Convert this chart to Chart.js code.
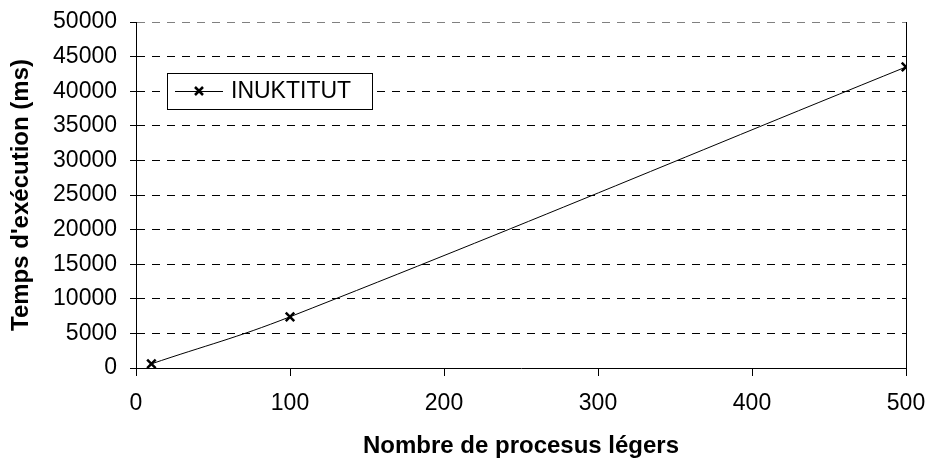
<!doctype html>
<html lang="fr">
  <head>
    <meta charset="UTF-8" />
    <title>Temps d'exécution</title>
    <script src="https://cdn.jsdelivr.net/npm/chart.js"></script>
    <style>
      body { margin: 0; background: #fff; }
      #wrap { width: 927px; height: 462px; position: relative; }
    </style>
  </head>
  <body>
    <div id="wrap"><canvas id="timeChart"></canvas></div>
    <script>
      // data
      var threads = [10, 100, 500];
      var times = [600, 7400, 43500];
      var seriesName = "INUKTITUT";
      var xTitle = "Nombre de procesus légers";
      var yTitle = "Temps d'exécution (ms)";

      var FONT = "'Liberation Sans', Arial, sans-serif";

      // boxed legend sitting inside the plot area, upper left
      var boxLegend = {
        id: "boxLegend",
        afterDraw: function (chart) {
          var ctx = chart.ctx;
          var x0 = 167, y0 = 73, w = 205, h = 36, cy = y0 + h / 2;
          ctx.save();
          ctx.fillStyle = "#fff";
          ctx.fillRect(x0, y0, w, h);
          ctx.strokeStyle = "#000";
          ctx.lineWidth = 1;
          ctx.strokeRect(x0 + 0.5, y0 + 0.5, w, h);
          ctx.beginPath();
          ctx.moveTo(175, cy + 0.5);
          ctx.lineTo(223, cy + 0.5);
          ctx.stroke();
          ctx.lineWidth = 2.5;
          ctx.beginPath();
          ctx.moveTo(195, cy - 4);
          ctx.lineTo(203, cy + 4);
          ctx.moveTo(203, cy - 4);
          ctx.lineTo(195, cy + 4);
          ctx.stroke();
          ctx.fillStyle = "#000";
          ctx.font = "23px " + FONT;
          ctx.textBaseline = "middle";
          ctx.textAlign = "left";
          ctx.fillText(chart.data.datasets[0].label, 231, cy + 1);
          ctx.restore();
        },
      };

      var ctx1 = document.getElementById("timeChart").getContext("2d");
      var timeChart = new Chart(ctx1, {
        type: "line",
        data: {
          datasets: [
            {
              label: seriesName,
              data: threads.map(function (t, i) {
                return { x: t, y: times[i] };
              }),
              borderColor: "#000",
              borderWidth: 1,
              tension: 0.4,
              pointStyle: "crossRot",
              pointRadius: 6,
              pointBorderWidth: 2.5,
              pointBorderColor: "#000",
              pointBackgroundColor: "#000",
            },
          ],
        },
        options: {
          responsive: true,
          maintainAspectRatio: false,
          animation: false,
          layout: { padding: { top: 22, right: 21, left: 0, bottom: 0 } },
          plugins: {
            legend: { display: false },
            tooltip: { enabled: false },
          },
          scales: {
            x: {
              type: "linear",
              min: 0,
              max: 500,
              ticks: {
                stepSize: 100,
                color: "#000",
                padding: 14,
                maxRotation: 0,
                font: { family: FONT, size: 23 },
              },
              grid: {
                color: function (c) {
                  return c.tick && c.tick.value === 500 ? "#000" : "rgba(0,0,0,0)";
                },
                tickColor: "#000",
                tickLength: 8,
              },
              border: { color: "#000", width: 1 },
              title: {
                display: true,
                text: xTitle,
                color: "#000",
                padding: { top: 1, bottom: 1 },
                font: { family: FONT, size: 24, weight: "bold" },
              },
              afterFit: function (s) {
                s.height = 94;
                s.paddingLeft = 0;
                s.paddingRight = 0;
              },
            },
            y: {
              min: 0,
              max: 50000,
              ticks: {
                stepSize: 5000,
                color: "#000",
                padding: 13,
                font: { family: FONT, size: 23 },
                callback: function (v) {
                  return String(v);
                },
              },
              grid: {
                color: function (c) {
                  if (!c.tick) return "#000";
                  if (c.tick.value === 0) return "rgba(0,0,0,0)";
                  return c.tick.value === 50000 ? "#808080" : "#000";
                },
                tickColor: "#000",
                tickLength: 6,
              },
              border: { color: "#000", width: 1, dash: [8, 7] },
              title: {
                display: true,
                text: yTitle,
                color: "#000",
                padding: { top: 7, bottom: 2 },
                font: { family: FONT, size: 24, weight: "bold" },
              },
              afterFit: function (s) {
                s.width = 136;
                s.paddingTop = 0;
                s.paddingBottom = 0;
              },
            },
          },
        },
        plugins: [boxLegend],
      });
    </script>
  </body>
</html>
